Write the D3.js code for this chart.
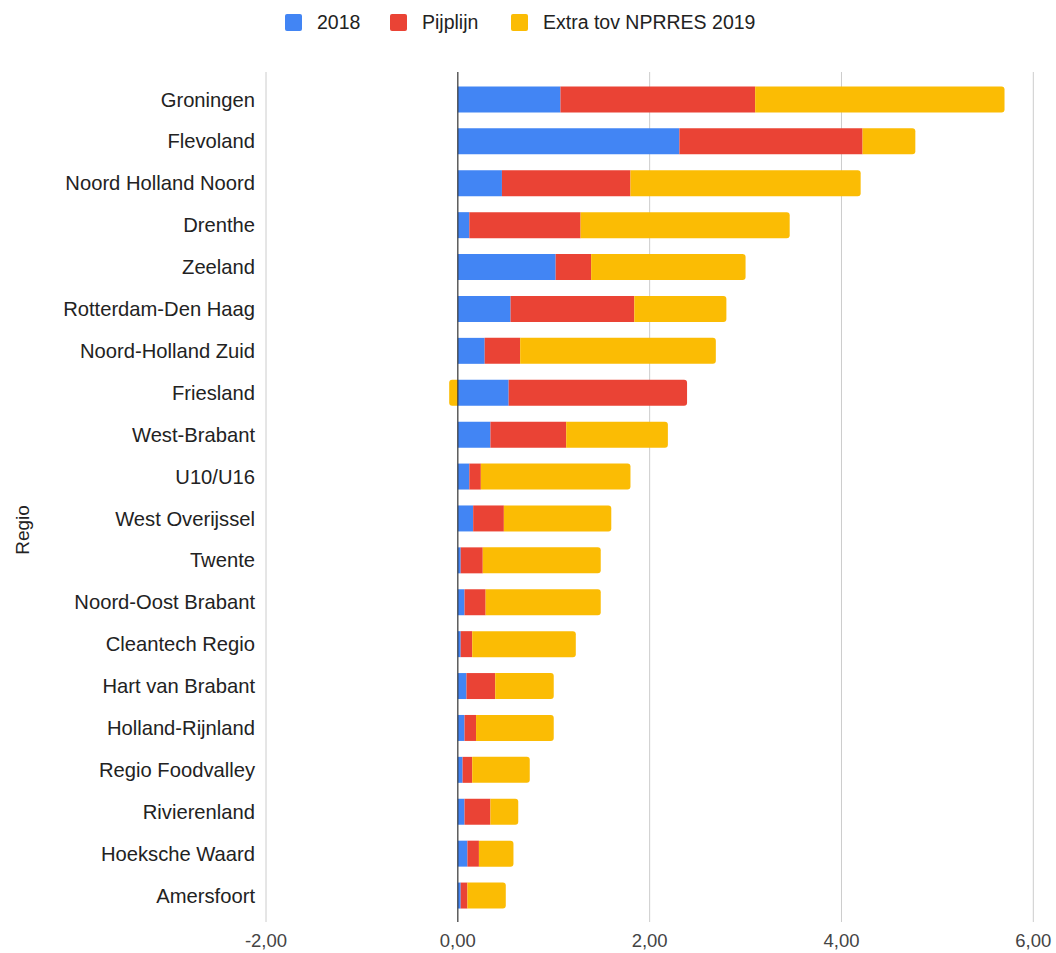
<!DOCTYPE html>
<html>
<head>
<meta charset="utf-8">
<script src="https://cdn.jsdelivr.net/npm/d3@7"></script>
<style>
  body { margin: 0; background: #fff; }
  svg { font-family: "Liberation Sans", Arial, sans-serif; }
</style>
</head>
<body>
<div id="chart"></div>
<script>
/* DATA */
const regions = ["Groningen", "Flevoland", "Noord Holland Noord", "Drenthe", "Zeeland",
  "Rotterdam-Den Haag", "Noord-Holland Zuid", "Friesland", "West-Brabant", "U10/U16",
  "West Overijssel", "Twente", "Noord-Oost Brabant", "Cleantech Regio", "Hart van Brabant",
  "Holland-Rijnland", "Regio Foodvalley", "Rivierenland", "Hoeksche Waard", "Amersfoort"];

const values2018 = [1.07, 2.31, 0.46, 0.12, 1.02, 0.55, 0.28, 0.53, 0.34, 0.12,
  0.16, 0.03, 0.07, 0.03, 0.09, 0.07, 0.05, 0.07, 0.10, 0.03];
const pijplijn = [2.03, 1.91, 1.34, 1.16, 0.37, 1.29, 0.37, 1.86, 0.79, 0.12,
  0.32, 0.23, 0.22, 0.12, 0.30, 0.12, 0.10, 0.27, 0.12, 0.07];
const extra = [2.60, 0.55, 2.40, 2.18, 1.61, 0.96, 2.04, -0.09, 1.06, 1.56,
  1.12, 1.23, 1.20, 1.08, 0.61, 0.81, 0.60, 0.29, 0.36, 0.40];

const seriesNames = ["2018", "Pijplijn", "Extra tov NPRRES 2019"];
const colors = ["#4285f4", "#ea4335", "#fbbc04"];
const xTicks = [-2, 0, 2, 4, 6];

/* CONSTANTS */
const width = 1056, height = 953;

const svg = d3.select("#chart")
  .append("svg")
  .attr("width", width)
  .attr("height", height);

const xScale = d3.scaleLinear()
  .domain([-2, 6])
  .range([266, 1033.3]);

const yScale = d3.scaleBand()
  .domain(regions)
  .range([78.5, 916.5])
  .paddingInner(0.38)
  .paddingOuter(0.19);

// gridlines
svg.append("g")
  .selectAll("line")
  .data(xTicks.filter(d => d !== 0))
  .join("line")
  .attr("x1", d => xScale(d)).attr("x2", d => xScale(d))
  .attr("y1", 72).attr("y2", 922)
  .attr("stroke", "#cccccc")
  .attr("stroke-width", 1);

// tick labels (comma decimal, plain hyphen minus)
svg.append("g")
  .selectAll("text")
  .data(xTicks)
  .join("text")
  .attr("x", d => xScale(d))
  .attr("y", 947)
  .attr("text-anchor", "middle")
  .attr("font-size", 18.5)
  .attr("fill", "#444")
  .text(d => d3.format(".2f")(d).replace(".", ",").replace("\u2212", "-"));

// build stacked segments (positive and negative stacked separately)
const rows = regions.map((r, i) => {
  const vals = [values2018[i], pijplijn[i], extra[i]];
  let pos = 0, neg = 0;
  const segs = vals.map((v, k) => {
    let s;
    if (v >= 0) { s = {k, x0: pos, x1: pos + v, side: 1}; pos += v; }
    else { s = {k, x0: neg, x1: neg + v, side: -1}; neg += v; }
    return s;
  });
  // mark outermost segment on each side
  [1, -1].forEach(side => {
    const onSide = segs.filter(s => s.side === side && s.x0 !== s.x1);
    if (onSide.length) onSide[onSide.length - 1].outer = true;
  });
  return {region: r, segs};
});

// rect with rounded outer end only
function barPath(s, y, h) {
  const r = 3;
  const a = xScale(s.x0), b = xScale(s.x1);
  if (!s.outer) return `M${a},${y}H${b}V${y + h}H${a}Z`;
  const rr = Math.min(r, Math.abs(b - a));
  const dir = b > a ? 1 : -1;
  return `M${a},${y}H${b - dir * rr}` +
    `Q${b},${y} ${b},${y + rr}` +
    `V${y + h - rr}` +
    `Q${b},${y + h} ${b - dir * rr},${y + h}` +
    `H${a}Z`;
}

const barG = svg.append("g");
rows.forEach(row => {
  const y = yScale(row.region), h = yScale.bandwidth();
  barG.selectAll(null)
    .data(row.segs.filter(s => s.x0 !== s.x1))
    .join("path")
    .attr("d", s => barPath(s, y, h))
    .attr("fill", s => colors[s.k]);
});

// zero baseline
svg.append("line")
  .attr("x1", xScale(0)).attr("x2", xScale(0))
  .attr("y1", 72).attr("y2", 922)
  .attr("stroke", "#333")
  .attr("stroke-width", 1.2);

// category labels
svg.append("g")
  .selectAll("text")
  .data(regions)
  .join("text")
  .attr("x", 255)
  .attr("y", d => yScale(d) + yScale.bandwidth() / 2)
  .attr("dy", "0.35em")
  .attr("text-anchor", "end")
  .attr("font-size", 20.2)
  .attr("fill", "#222")
  .text(d => d);

// y axis title
svg.append("text")
  .attr("transform", "translate(29,530) rotate(-90)")
  .attr("text-anchor", "middle")
  .attr("font-size", 19)
  .attr("fill", "#222")
  .text("Regio");

// legend
const legendX = [285, 390, 511];
const legend = svg.append("g")
  .selectAll("g")
  .data(seriesNames)
  .join("g")
  .attr("transform", (d, i) => `translate(${legendX[i]},14)`);

legend.append("rect")
  .attr("width", 17).attr("height", 17)
  .attr("rx", 2)
  .attr("fill", (d, i) => colors[i]);

legend.append("text")
  .attr("x", 32)
  .attr("y", 15)
  .attr("font-size", 19.5)
  .attr("fill", "#222")
  .text(d => d);
</script>
</body>
</html>
